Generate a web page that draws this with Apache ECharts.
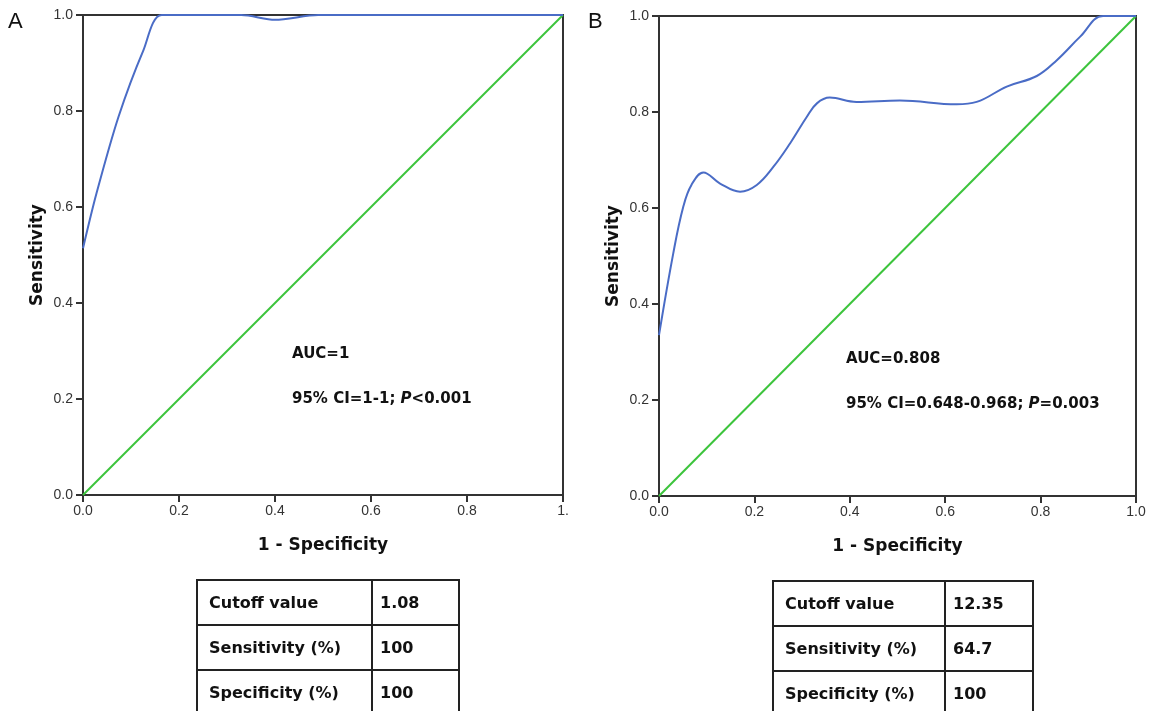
<!DOCTYPE html>
<html>
<head>
<meta charset="utf-8">
<script src="https://cdn.jsdelivr.net/npm/echarts@6/dist/echarts.min.js"></script>
<style>
  html, body { margin: 0; padding: 0; background: #fff; overflow: hidden; }
  #main { position: absolute; left: 0; top: 0; width: 1149px; height: 711px; }
  table.cut { position: absolute; border-collapse: collapse; font-family: "DejaVu Sans", sans-serif;
    font-weight: bold; font-size: 16px; color: #111; }
  table.cut td { border: 2px solid #222; height: 45px; padding: 0 0 0 11px; box-sizing: border-box; }
</style>
</head>
<body>
<div id="main"></div>
<table class="cut" id="tabA" style="left:196px; top:579px;"></table>
<table class="cut" id="tabB" style="left:772px; top:580px;"></table>
<script>
'use strict'
// ROC curve A (1 - specificity, sensitivity)
var rocAX = [0, 0.028, 0.074, 0.126, 0.164, 0.33, 0.4, 0.49, 0.7, 1.0];
var rocAY = [0.514, 0.628, 0.788, 0.927, 1.0, 1.0, 0.99, 1.0, 1.0, 1.0];
// ROC curve B
var rocBX = [0, 0.03, 0.051, 0.068, 0.093, 0.128, 0.17, 0.205, 0.24, 0.275, 0.31, 0.331, 0.358, 0.414, 0.505, 0.624, 0.666, 0.729, 0.792, 0.834, 0.883, 0.931, 1.0];
var rocBY = [0.335, 0.506, 0.603, 0.648, 0.674, 0.651, 0.634, 0.648, 0.686, 0.735, 0.79, 0.818, 0.83, 0.821, 0.824, 0.816, 0.821, 0.853, 0.875, 0.908, 0.957, 1.0, 1.0];
// reference line
var diagX = [0, 1];
var diagY = [0, 1];

var xTicksA = ['0.0', '0.2', '0.4', '0.6', '0.8', '1.'];
var xTicksB = ['0.0', '0.2', '0.4', '0.6', '0.8', '1.0'];
var yTicks = ['0.0', '0.2', '0.4', '0.6', '0.8', '1.0'];

var statsA = ['AUC=1', '95% CI=1-1; ', 'P', '<0.001'];
var statsB = ['AUC=0.808', '95% CI=0.648-0.968; ', 'P', '=0.003'];

var tableRows = ['Cutoff value', 'Sensitivity (%)', 'Specificity (%)'];
var tableA = ['1.08', '100', '100'];
var tableB = ['12.35', '64.7', '100'];

function pairs(xs, ys) {
    return xs.map(function (x, i) { return [x, ys[i]]; });
}

function fillTable(id, vals, w1, w2) {
    var t = document.getElementById(id);
    tableRows.forEach(function (r, i) {
        var tr = document.createElement('tr');
        var a = document.createElement('td');
        a.textContent = r;
        a.style.width = w1 + 'px';
        var b = document.createElement('td');
        b.textContent = vals[i];
        b.style.width = w2 + 'px';
        b.style.paddingLeft = '7px';
        tr.appendChild(a);
        tr.appendChild(b);
        t.appendChild(tr);
    });
}
fillTable('tabA', tableA, 175, 87);
fillTable('tabB', tableB, 172, 88);

var font = 'DejaVu Sans';
var tickFont = 'Liberation Sans';
function xAxisOf(idx, ticks) {
    return {
        type: 'value', gridIndex: idx, min: 0, max: 1, interval: 0.2,
        name: '1 - Specificity', nameLocation: 'middle', nameGap: 42,
        nameTextStyle: { fontFamily: font, fontWeight: 'bold', fontSize: 17, color: '#111' },
        axisLine: { lineStyle: { color: '#333', width: 2 } },
        axisTick: { show: true, length: 7, lineStyle: { color: '#333', width: 2 } },
        axisLabel: {
            margin: 9, color: '#333', fontFamily: tickFont, fontSize: 14,
            formatter: function (v) { return ticks[Math.round(v / 0.2)]; }
        },
        splitLine: { show: false }
    };
}
function yAxisOf(idx) {
    return {
        type: 'value', gridIndex: idx, min: 0, max: 1, interval: 0.2,
        name: 'Sensitivity', nameLocation: 'middle', nameGap: 37,
        nameTextStyle: { fontFamily: font, fontWeight: 'bold', fontSize: 17, color: '#111' },
        axisLine: { lineStyle: { color: '#333', width: 2 } },
        axisTick: { show: true, length: 7, lineStyle: { color: '#333', width: 2 } },
        axisLabel: {
            margin: 10, color: '#333', fontFamily: tickFont, fontSize: 14,
            formatter: function (v) { return yTicks[Math.round(v / 0.2)]; }
        },
        splitLine: { show: false }
    };
}
function statText(x, y, s) {
    var st = { fontFamily: font, fontWeight: 'bold', fontSize: 15, fill: '#111' };
    return [
        { type: 'text', x: x, y: y, style: Object.assign({ text: s[0], verticalAlign: 'middle' }, st) },
        { type: 'text', x: x, y: y + 45, style: {
            text: '{n|' + s[1] + '}{i|' + s[2] + '}{n|' + s[3] + '}', verticalAlign: 'middle',
            rich: {
                n: st,
                i: Object.assign({ fontStyle: 'italic' }, st)
            }
        } }
    ];
}

var chart = echarts.init(document.getElementById('main'));
var option = {
    animation: false,
    backgroundColor: '#fff',
    grid: [
        { left: 83, top: 15, width: 480, height: 480, show: true, borderColor: '#333', borderWidth: 2, backgroundColor: '#fff' },
        { left: 659, top: 16, width: 477, height: 480, show: true, borderColor: '#333', borderWidth: 2, backgroundColor: '#fff' }
    ],
    xAxis: [xAxisOf(0, xTicksA), xAxisOf(1, xTicksB)],
    yAxis: [yAxisOf(0), yAxisOf(1)],
    series: [
        { type: 'line', xAxisIndex: 0, yAxisIndex: 0, data: pairs(diagX, diagY), showSymbol: false,
          lineStyle: { color: '#3cc43c', width: 2 } },
        { type: 'line', xAxisIndex: 0, yAxisIndex: 0, data: pairs(rocAX, rocAY), showSymbol: false, smooth: 0.3,
          lineStyle: { color: '#4a6cc6', width: 2 } },
        { type: 'line', xAxisIndex: 1, yAxisIndex: 1, data: pairs(diagX, diagY), showSymbol: false,
          lineStyle: { color: '#3cc43c', width: 2 } },
        { type: 'line', xAxisIndex: 1, yAxisIndex: 1, data: pairs(rocBX, rocBY), showSymbol: false, smooth: 0.4,
          lineStyle: { color: '#4a6cc6', width: 2 } }
    ],
    graphic: [
        { type: 'text', x: 8, y: 22, style: { text: 'A', fontFamily: 'Liberation Sans', fontSize: 22, fill: '#111', verticalAlign: 'middle' } },
        { type: 'text', x: 588, y: 22, style: { text: 'B', fontFamily: 'Liberation Sans', fontSize: 22, fill: '#111', verticalAlign: 'middle' } }
    ].concat(statText(292, 354, statsA), statText(846, 359, statsB))
};
chart.setOption(option);
</script>
</body>
</html>
